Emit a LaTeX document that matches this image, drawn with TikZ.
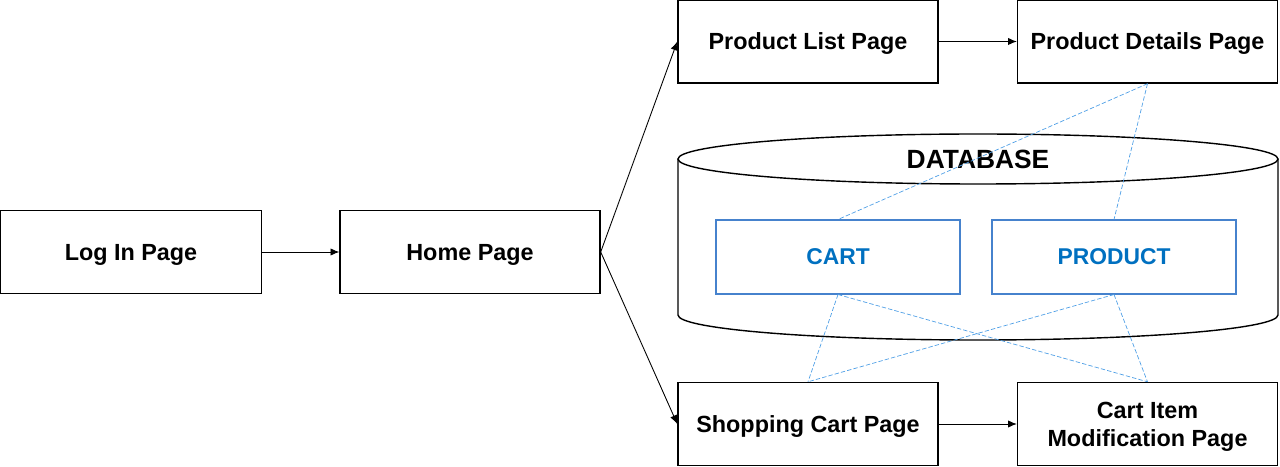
\documentclass[tikz,border=0pt]{standalone}
\usepackage{fontspec}
\setmainfont{Liberation Sans}
\usetikzlibrary{arrows.meta,shapes}
\definecolor{tblblue}{RGB}{0,112,192}
\definecolor{tbledge}{RGB}{70,130,205}
\definecolor{linkblue}{RGB}{80,160,230}
\tikzstyle{page}=[draw,line width=0.8pt,minimum width=5.2cm,minimum height=1.66cm,inner sep=0pt,align=center,text depth=0pt,font=\fontsize{13.3}{15.9}\selectfont\bfseries]
\tikzstyle{table}=[draw=tbledge,line width=0.6pt,minimum width=4.88cm,minimum height=1.48cm,inner sep=0pt,text=tblblue,font=\fontsize{13}{15}\selectfont\bfseries]
\tikzstyle{link}=[-,draw=linkblue,line width=0.4pt,dash pattern=on 2.5pt off 1.2pt]

\begin{document}
\begin{tikzpicture}[->,>={Latex[length=5pt,width=4.2pt]},line width=0.5pt]
\useasboundingbox (0,0) rectangle (25.6,9.32);
% database
\draw[-,line width=0.8pt] (19.56,6.14) ellipse (6 and 0.5);
\draw[-,line width=0.8pt] (13.56,6.14) -- (13.56,3.02) arc (180:360:6 and 0.5) -- (25.56,6.14);
\node (db) at (19.56,6.14) {\fontsize{15}{18}\selectfont\bfseries DATABASE};
\node [table] (cart) at (16.76,4.18) {CART};
\node [table] (product) at (22.28,4.18) {PRODUCT};
% pages
\node [page,minimum width=5.22cm] (login) at (2.62,4.28) {Log In Page};
\node [page] (home) at (9.4,4.28) {Home Page};
\node [page] (plist) at (16.16,8.49) {Product List Page};
\node [page] (pdetail) at (22.95,8.49) {Product Details Page};
\node [page] (scart) at (16.16,0.84) {Shopping Cart Page};
\node [page] (cmod) at (22.95,0.84) {Cart Item\\Modification Page};
% navigation
\draw (login) -- (home);
\draw (home.east) -- (plist.west);
\draw (home.east) -- (scart.west);
\draw (plist) -- (pdetail);
\draw (scart) -- (cmod);
% data access
\draw [link] (pdetail.south) -- (cart.north);
\draw [link] (pdetail.south) -- (product.north);
\draw [link] (cart.south) -- (scart.north);
\draw [link] (cart.south) -- (cmod.north);
\draw [link] (product.south) -- (scart.north);
\draw [link] (product.south) -- (cmod.north);
\end{tikzpicture}
\end{document}
